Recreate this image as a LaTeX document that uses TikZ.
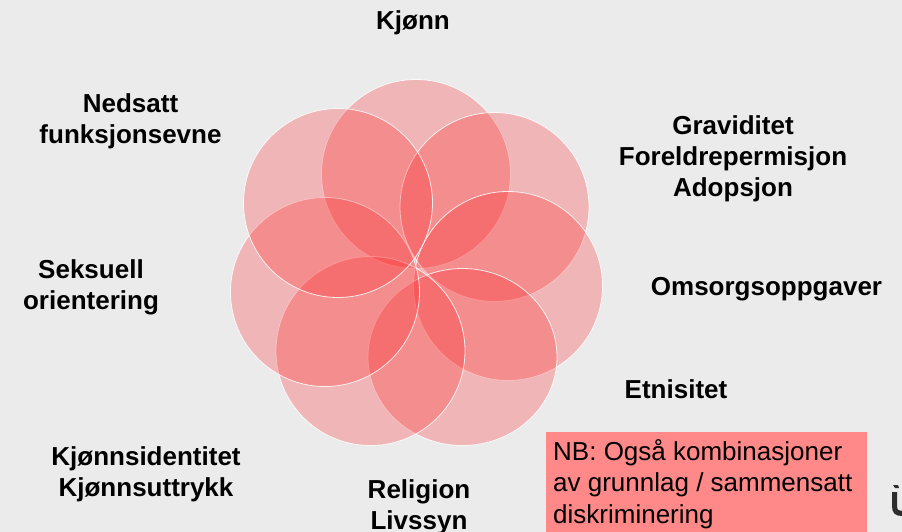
\documentclass[tikz,border=0pt]{standalone}
\usepackage{fontspec}
\setmainfont{Liberation Sans}
\definecolor{bg}{RGB}{235,235,235}
\definecolor{petal}{RGB}{255,23,25}
\definecolor{nbbox}{RGB}{255,136,136}
\definecolor{logo}{RGB}{45,45,45}
\tikzset{
  petalcircle/.style={fill=petal, fill opacity=0.25, draw=white, draw opacity=0.85, line width=0.8pt},
  lbl/.style={inner sep=0pt, anchor=base, align=center, font=\fontsize{26}{31}\selectfont\bfseries},
  nbtext/.style={inner sep=0pt, anchor=base west, align=left, font=\fontsize{26}{31.5}\selectfont},
}
\begin{document}
\begin{tikzpicture}[x=1pt,y=-1pt]
\useasboundingbox (0,0) rectangle (902,532);
\fill[bg] (0,0) rectangle (902,532);
% petals (centres measured from the reference)
\path[petalcircle] (416,174) circle[radius=94.5pt];
\path[petalcircle] (494.5,207) circle[radius=94.5pt];
\path[petalcircle] (508,286) circle[radius=94.5pt];
\path[petalcircle] (462.5,357) ellipse[x radius=94.5pt, y radius=88.5pt];
\path[petalcircle] (370.5,351) circle[radius=94.5pt];
\path[petalcircle] (325,292) circle[radius=94.5pt];
\path[petalcircle] (338,203) circle[radius=94.5pt];
% multi-line nodes: base anchor sits on the last line's baseline
\node[lbl] (kjonn) at (413,30) {Kjønn};
\node[lbl] (nedsatt) at (130.5,143) {Nedsatt\\funksjonsevne};
\node[lbl] (grav) at (733,196) {Graviditet\\Foreldrepermisjon\\Adopsjon};
\node[lbl] (omsorg) at (766.5,295) {Omsorgsoppgaver};
\node[lbl] (etn) at (676,398) {Etnisitet};
\node[lbl] (relig) at (419,529) {Religion\\Livssyn};
\node[lbl] (kid) at (146,496) {Kjønnsidentitet\\Kjønnsuttrykk};
\node[lbl] (seks) at (91,309) {Seksuell\\orientering};
\fill[nbbox] (546,432) rectangle (867,540);
\node[nbtext] (nb) at (553,523) {NB: Også kombinasjoner\\av grunnlag / sammensatt\\diskriminering};
\fill[logo] (892,492) -- (897,492) -- (897,506) .. controls (897,510) and (899,511) .. (902,511) -- (902,516) .. controls (895,516) and (892,513) .. (892,506) -- cycle;
\fill[logo] (893,485) -- (898,485) -- (899,488) -- (895,488) -- cycle;
\end{tikzpicture}
\end{document}
